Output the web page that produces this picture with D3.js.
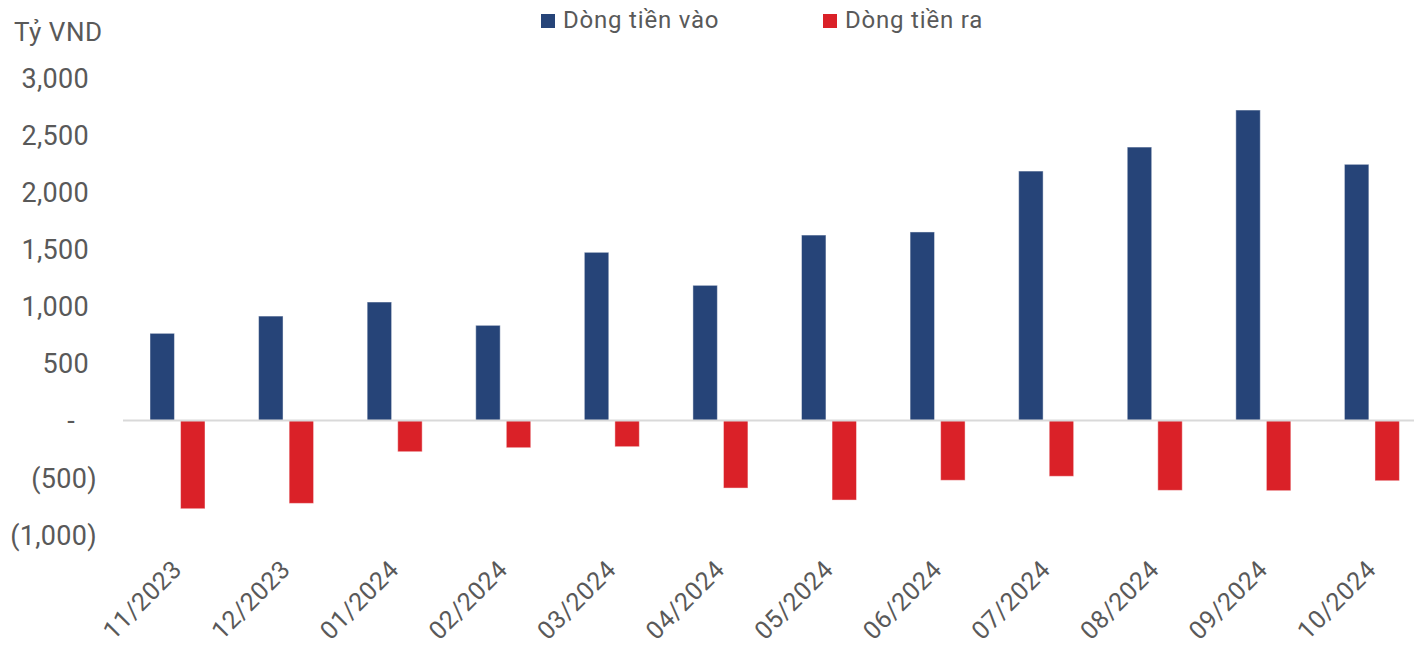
<!DOCTYPE html>
<html>
<head>
<meta charset="utf-8">
<script src="https://cdn.jsdelivr.net/npm/d3@7"></script>
<style>
  html, body { margin: 0; padding: 0; background: #fff; }
  svg { display: block; }
  text { font-family: Roboto, "Open Sans", sans-serif; fill: #595959; }
</style>
</head>
<body>
<svg id="chart" width="1414" height="648"></svg>
<script>
// Monthly cash flows (billion VND)
const months = ["11/2023", "12/2023", "01/2024", "02/2024", "03/2024", "04/2024",
                "05/2024", "06/2024", "07/2024", "08/2024", "09/2024", "10/2024"];
const inflow  = [763, 914, 1037, 833, 1472, 1183, 1623, 1650, 2183, 2393, 2717, 2242];
const outflow = [-772, -725, -273, -238, -229, -591, -696, -523, -488, -611, -614, -527];
const seriesNames = ["Dòng tiền vào", "Dòng tiền ra"];
const seriesColors = ["#264478", "#DA2128"];
const yTicks = [3000, 2500, 2000, 1500, 1000, 500, 0, -500, -1000];
const unitLabel = "Tỷ VND";

const svg = d3.select("#chart");

const x0 = d3.scaleBand().domain(months).range([123, 1426]).padding(0);
const x1 = d3.scaleBand().domain([0, 1]).range([27, 82]).paddingInner(0.2).paddingOuter(0);
const y = d3.scaleLinear().domain([-1000, 3000]).range([534.8, 77.7]);

const fmt = d3.format(",");
const tickText = v => v > 0 ? fmt(v) : v < 0 ? "(" + fmt(-v) + ")" : "-";

// Y axis labels (accounting style)
const yAxis = d3.axisLeft(y).tickValues(yTicks).tickFormat(tickText).tickSize(0).tickPadding(0);
const yg = svg.append("g").attr("transform", "translate(89,0)").call(yAxis);
yg.select(".domain").remove();
yg.selectAll("text")
  .attr("font-size", 27)
  .attr("letter-spacing", 0.3)
  .attr("fill", "#595959")
  .attr("font-family", "Roboto, sans-serif")
  .attr("dy", "0.35em")
  .attr("x", d => d < 0 ? 8 : d === 0 ? -14 : 0);

// Unit label
svg.append("text").attr("x", 14).attr("y", 41)
  .attr("font-size", 26).attr("letter-spacing", 0.5).text(unitLabel);

// Bars
const rows = months.map((m, i) => ({ m, vals: [inflow[i], outflow[i]] }));
const groups = svg.append("g").selectAll("g").data(rows).join("g")
  .attr("transform", d => `translate(${x0(d.m)},0)`);
groups.selectAll("rect").data(d => d.vals.map((v, k) => ({ v, k }))).join("rect")
  .attr("x", d => x1(d.k))
  .attr("width", x1.bandwidth())
  .attr("y", d => d.v >= 0 ? y(d.v) : y(0))
  .attr("height", d => Math.abs(y(d.v) - y(0)))
  .attr("fill", d => seriesColors[d.k])
  .attr("stroke", "rgba(255,255,255,0.45)")
  .attr("stroke-width", 1);

// Zero baseline
svg.append("line")
  .attr("x1", x0.range()[0]).attr("x2", x0.range()[1])
  .attr("y1", y(0)).attr("y2", y(0))
  .attr("stroke", "#d9d9d9").attr("stroke-width", 2);

// Category labels, rotated
const xg = svg.append("g");
xg.selectAll("text").data(months).join("text")
  .attr("transform", d => `translate(${x0(d) + x0.bandwidth() / 2 + 6},571) rotate(-45)`)
  .attr("text-anchor", "end")
  .attr("font-size", 25)
  .attr("letter-spacing", 0.6)
  .text(d => d);

// Legend
const legend = svg.append("g");
const legendX = [541, 823];
seriesNames.forEach((name, k) => {
  legend.append("rect").attr("x", legendX[k]).attr("y", 14).attr("width", 14).attr("height", 14)
    .attr("fill", seriesColors[k]);
  legend.append("text").attr("x", legendX[k] + 22).attr("y", 28)
    .attr("font-size", 24).attr("letter-spacing", 0.8).text(name);
});
</script>
</body>
</html>
